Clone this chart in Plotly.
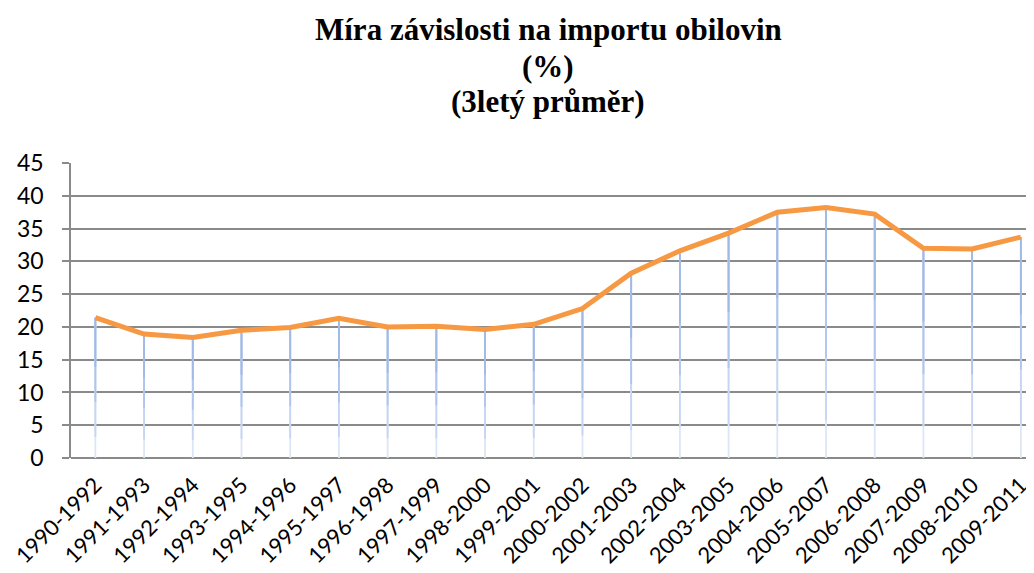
import plotly.graph_objects as go

categories = ["1990-1992", "1991-1993", "1992-1994", "1993-1995", "1994-1996",
              "1995-1997", "1996-1998", "1997-1999", "1998-2000", "1999-2001",
              "2000-2002", "2001-2003", "2002-2004", "2003-2005", "2004-2006",
              "2005-2007", "2006-2008", "2007-2009", "2008-2010", "2009-2011"]
values = [21.4, 18.9, 18.4, 19.5, 19.9, 21.3, 20.0, 20.1, 19.6, 20.4,
          22.8, 28.2, 31.6, 34.3, 37.5, 38.2, 37.2, 32.0, 31.9, 33.7]
y_ticks = [0, 5, 10, 15, 20, 25, 30, 35, 40, 45]

title_lines = ["Míra závislosti na importu obilovin", "(%)", "(3letý průměr)"]

# page body has an 8px margin, so the figure is offset by 8px
OFF = 8
W, H = 1034 - OFF, 573 - OFF
L, T = 71 - OFF, 163 - OFF
plot_h = 295
B = H - T - plot_h
plot_w = W - L

fig = go.Figure()

# drop lines from each point to zero, layered to mimic a fade toward the base
drop_layers = [(1.0, "#dde6f6"), (0.85, "#c6d5f1"), (0.6, "#afc5ec"), (0.35, "#a0b9e7")]
for frac, col in drop_layers:
    fig.add_trace(go.Scatter(
        x=categories, y=values, mode="markers",
        marker=dict(size=0.1, color="rgba(0,0,0,0)"),
        error_y=dict(type="data", symmetric=False,
                     array=[0] * len(values),
                     arrayminus=[v * frac for v in values],
                     width=0, thickness=1.8, color=col),
        hoverinfo="skip", showlegend=False,
    ))

fig.add_trace(go.Scatter(
    x=categories, y=values, mode="lines",
    line=dict(color="#f79843", width=5),
    showlegend=False,
))

title_centers = [29, 66, 102]  # screen px
for txt, cy in zip(title_lines, title_centers):
    fig.add_annotation(
        text=txt, showarrow=False,
        xref="paper", yref="paper",
        x=(548 - OFF - L) / plot_w, xanchor="center",
        y=1 + (T - (cy - OFF)) / plot_h, yanchor="middle",
        font=dict(family="Liberation Serif, Times New Roman, serif", size=31,
                  color="black", weight="bold"),
    )

fig.update_layout(
    width=W, height=H,
    paper_bgcolor="white", plot_bgcolor="white",
    margin=dict(l=L, r=0, t=T, b=B, autoexpand=False),
    font=dict(family="Lato", color="black"),
)

fig.update_xaxes(
    type="category", range=[-0.5, 19.27], automargin=False,
    tickangle=-45, tickfont=dict(size=22, family="Lato", color="black"),
    ticklabelstandoff=9,
    showgrid=False, showline=False, zeroline=False, ticks="",
)
fig.update_yaxes(
    range=[0, 45], tickvals=y_ticks, automargin=False,
    tickfont=dict(size=23, family="Lato", color="black"),
    ticklabelstandoff=14,
    showgrid=True, gridcolor="#8a8a8a", gridwidth=1.6,
    showline=True, linecolor="#8a8a8a", linewidth=1.6,
    ticks="outside", ticklen=7, tickcolor="#8a8a8a", tickwidth=1.6,
    zeroline=True, zerolinecolor="#8a8a8a", zerolinewidth=1.6,
)

fig.write_html("out.html")
